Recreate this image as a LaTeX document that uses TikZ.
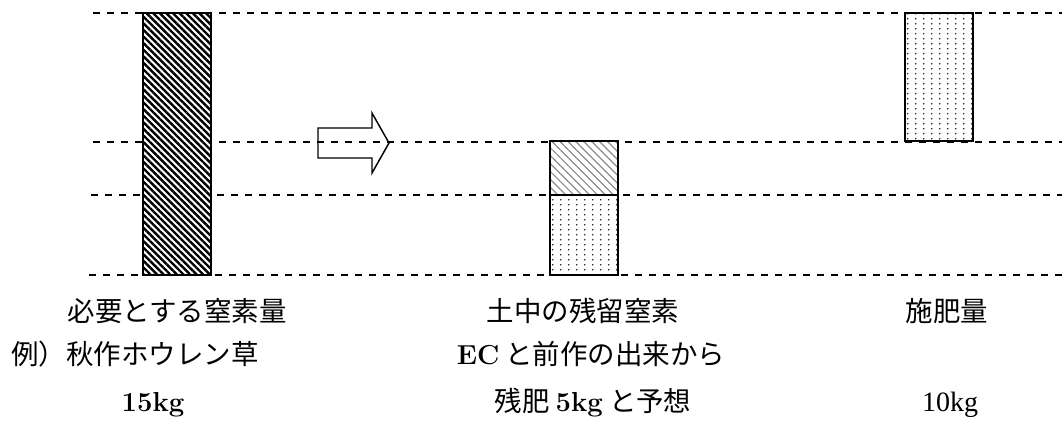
\documentclass[tikz,border=0pt]{standalone}
\usepackage{fontspec}
\newfontfamily\cjk{Noto Sans CJK JP}
\newfontfamily\lat{Latin Modern Roman}
\newfontfamily\latreg{Liberation Serif}
\usetikzlibrary{patterns.meta}
\pgfdeclarepattern{
  name=mydots,
  type=uncolored,
  bottom left={\pgfpoint{0pt}{0pt}},
  top right={\pgfpoint{5.8pt}{3.5pt}},
  tile size={\pgfpoint{5.8pt}{3.5pt}},
  code={\pgfpathcircle{\pgfpoint{2.9pt}{1.75pt}}{0.7pt}\pgfusepath{fill}}
}
\tikzset{
  guide/.style={line width=1.4pt, dash pattern=on 5.25pt off 5.25pt},
  bar/.style={draw, line width=1.3pt, inner sep=0pt, outer sep=0pt, minimum width=51pt, preaction={fill=white}},
  darkhatch/.style={pattern={Lines[angle=-45,distance=3.5pt,line width=1.8pt]}, pattern color=black},
  lighthatch/.style={pattern={Lines[angle=-45,distance=4.2pt,line width=0.9pt]}, pattern color=black!45},
  dotted fill/.style={pattern=mydots, pattern color=black!85},
  lbl/.style={anchor=base, inner sep=0pt, font=\cjk\fontsize{20.6pt}{24pt}\selectfont},
  bigarrow/.style={draw, line width=1.1pt, line join=miter}
}
\newcommand\latb[1]{{\lat\fontsize{20.6pt}{24pt}\selectfont\bfseries #1}}
\newcommand\latr[1]{{\latreg\fontsize{21pt}{24pt}\selectfont #1}}
\begin{document}
\begin{tikzpicture}[x=0.75pt,y=-0.75pt]
\useasboundingbox (0,0) rectangle (1062,421);
% guide lines
\coordinate (g1a) at (93,13);  \coordinate (g1b) at (1062,13);
\coordinate (g2a) at (93,142); \coordinate (g2b) at (1062,142);
\coordinate (g3a) at (91,195); \coordinate (g3b) at (1062,195);
\coordinate (g4a) at (89,275); \coordinate (g4b) at (1062,275);
\draw[guide] (g1a) -- (g1b);
\draw[guide] (g2a) -- (g2b);
\draw[guide] (g3a) -- (g3b);
\draw[guide] (g4a) -- (g4b);
% bars
\node[bar, darkhatch, minimum height=196.5pt] (need) at (177,144) {};
\node[bar, lighthatch, minimum height=40.5pt] (soil) at (584,168) {};
\node[bar, dotted fill, minimum height=60pt] (rest) at (584,235) {};
\node[bar, dotted fill, minimum height=96pt] (fert) at (939,77) {};
% arrow
\draw[bigarrow] (318,128) -- (372,128) -- (372,113) -- (389,143) -- (372,173) -- (372,158) -- (318,158) -- cycle;
% labels
\node[lbl] (t1) at (177,321) {必要とする窒素量};
\node[lbl] (t2) at (135,364) {例）秋作ホウレン草};
\node[lbl] (t3) at (153,411) {\latb{15kg}};
\node[lbl] (m1) at (583,321) {土中の残留窒素};
\node[lbl] (m2) at (591,364) {\latb{EC} と前作の出来から};
\node[lbl] (m3) at (593,411) {残肥 \latb{5kg} と予想};
\node[lbl] (r1) at (947,321) {施肥量};
\node[lbl] (r2) at (950,411) {\latr{10kg}};
\end{tikzpicture}
\end{document}
